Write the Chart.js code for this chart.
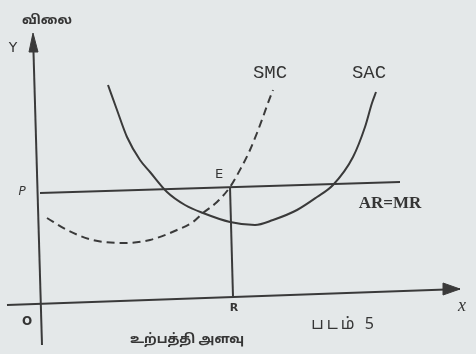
<!DOCTYPE html>
<html>
<head>
<meta charset="utf-8">
<script src="https://cdn.jsdelivr.net/npm/chart.js@4"></script>
<style>
  body { margin: 0; background: #e4e8e9; }
  canvas { display: block; }
</style>
</head>
<body>
<canvas id="grafico" width="476" height="354"></canvas>
<script>
/* datos (unidades: cantidad / precio) */
const sacCantidad = [16.75, 19, 21.5, 24.75, 27.25, 31.5, 36, 40.5, 47.25, 53.5, 58, 64, 69, 73, 78, 81, 82.75, 83.75];
const sacCosto    = [54.75, 48.5, 41.75, 36, 33, 28, 24.75, 22.75, 20.5, 19.75, 21, 23.5, 26.75, 29.75, 36.75, 44.25, 50.25, 53];

const smcCantidad = [1.5, 6.5, 13, 20.5, 27.25, 34, 38, 40.5, 44, 47.25, 50, 52.25, 54, 55.5, 56.75, 58];
const smcCosto    = [21.5, 18.5, 16, 15.25, 16, 18.5, 20.5, 22.75, 25.5, 29.25, 34, 38.5, 42.75, 46.75, 50.25, 53.5];

// linea de precio P (AR=MR)
const precioCantidad = [-0.25, 89.75];
const precioValor    = [27.75, 30.5];

// vertical E -> R
const equilibrioCantidad = [47.25, 48];
const equilibrioValor    = [29.25, 1.75];

// ejes
const ejeYCantidad = [-2, 0.25];
const ejeYValor    = [67.25, -10.25];
const ejeXCantidad = [-8.5, 104.75];
const ejeXValor    = [-0.25, 3.75];
const flechaYCantidad = [-3, -2, -0.75, -3];
const flechaYValor    = [63, 67.75, 63, 63];
const flechaXCantidad = [100.5, 104.75, 100.5, 100.5];
const flechaXValor    = [5.25, 3.75, 2.25, 5.25];

// textos
const etiquetas = ['விலை', 'Y', 'P', 'O', 'R', 'x', 'E', 'SMC', 'SAC', 'AR=MR', 'உற்பத்தி அளவு', 'படம் 5'];
const etiquetaCantidad = [1.5, -7, -4.75, -3.5, 48.25, 105.25, 44.5, 57.25, 82, 87.25, 36.5, 75.75];
const etiquetaValor    = [70.75, 64, 28, -4.5, -1, -0.5, 32.25, 57.75, 57.75, 25, -9, -5.5];
const etiquetaFuente = [
  'bold 13px "Noto Sans Tamil", "Noto Sans", sans-serif',
  '14px "DejaVu Sans", sans-serif',
  'italic 12px "DejaVu Sans", sans-serif',
  'bold 12px "DejaVu Sans", sans-serif',
  'bold 11px "DejaVu Sans", sans-serif',
  'italic 18px "Liberation Serif", serif',
  '13px "DejaVu Sans", sans-serif',
  '19px "Liberation Mono", monospace',
  '19px "Liberation Mono", monospace',
  'bold 17px "Liberation Serif", serif',
  'bold 13px "Noto Sans Tamil", "Noto Sans", sans-serif',
  '16px "Noto Sans Tamil", "Noto Sans", sans-serif'
];
const etiquetaEspacio = [0, 0, 0, 0, 0, 0, 0, 0, 0, 0, 0, 3];

const colorLinea = '#3a3a3a';

function puntos(xs, ys) {
  return xs.map((x, i) => ({ x: x, y: ys[i] }));
}

function linea(xs, ys, extra) {
  return Object.assign({
    data: puntos(xs, ys),
    showLine: true,
    borderColor: colorLinea,
    borderWidth: 2,
    pointRadius: 0,
    fill: false
  }, extra || {});
}

const textosPlugin = {
  id: 'textos',
  afterDatasetsDraw(chart) {
    const ctx = chart.ctx;
    const sx = chart.scales.x;
    const sy = chart.scales.y;
    ctx.save();
    ctx.fillStyle = '#353535';
    ctx.textAlign = 'center';
    ctx.textBaseline = 'middle';
    etiquetas.forEach((t, i) => {
      ctx.font = etiquetaFuente[i];
      ctx.letterSpacing = etiquetaEspacio[i] + 'px';
      ctx.fillText(t, sx.getPixelForValue(etiquetaCantidad[i]), sy.getPixelForValue(etiquetaValor[i]));
    });
    ctx.restore();
  }
};

const datasets = [
  linea(ejeYCantidad, ejeYValor),
  linea(ejeXCantidad, ejeXValor),
  linea(flechaYCantidad, flechaYValor, { backgroundColor: colorLinea, fill: 'shape', borderWidth: 1 }),
  linea(flechaXCantidad, flechaXValor, { backgroundColor: colorLinea, fill: 'shape', borderWidth: 1 }),
  linea(precioCantidad, precioValor),
  linea(equilibrioCantidad, equilibrioValor),
  linea(sacCantidad, sacCosto, { cubicInterpolationMode: 'monotone' }),
  linea(smcCantidad, smcCosto, { borderDash: [8, 5], cubicInterpolationMode: 'monotone' })
];

let grafico = new Chart(document.getElementById('grafico'), {
  type: 'scatter',
  data: { datasets },
  options: {
    responsive: false,
    animation: false,
    layout: { padding: 0 },
    plugins: { legend: { display: false }, tooltip: { enabled: false } },
    scales: {
      x: { type: 'linear', min: -10.25, max: 108.75, display: false },
      y: { type: 'linear', min: -12.5, max: 76, display: false }
    }
  },
  plugins: [textosPlugin]
});
</script>
</body>
</html>
